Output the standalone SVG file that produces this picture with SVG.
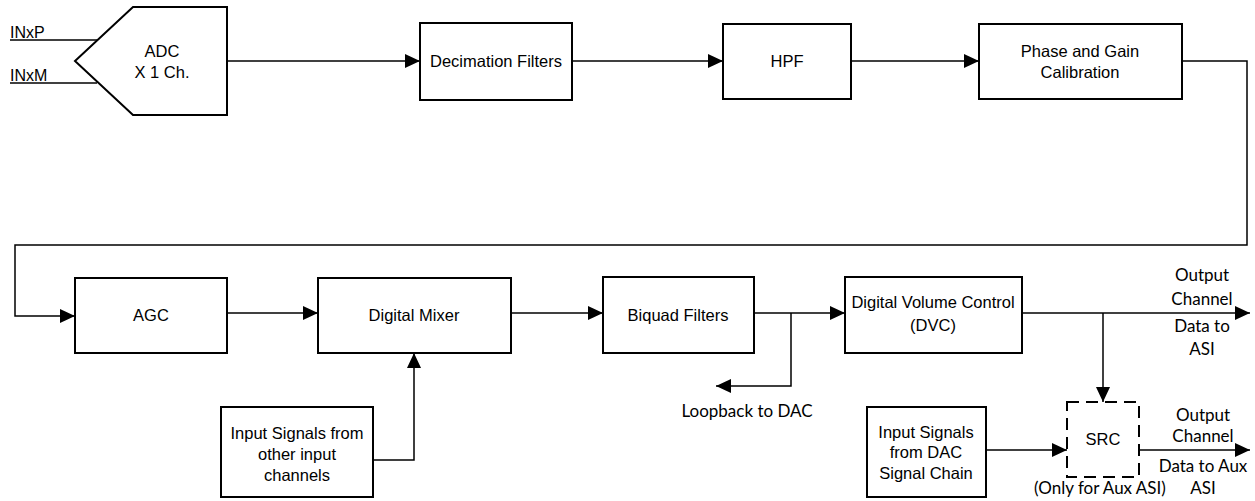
<svg xmlns="http://www.w3.org/2000/svg" width="1255" height="501" viewBox="0 0 1255 501">
<style>
.box{fill:#fff;stroke:#000;stroke-width:2}
.dash{fill:#fff;stroke:#000;stroke-width:2;stroke-dasharray:12,7}
.t{font-family:"Liberation Sans",Arial,sans-serif;font-size:16.5px;fill:#000;text-anchor:middle}
.c{font-family:Lato,"Open Sans",sans-serif;font-size:17px;fill:#000;text-anchor:middle}
.w{fill:none;stroke:#000;stroke-width:1.5}
</style>
<defs>
<marker id="ah" markerUnits="userSpaceOnUse" markerWidth="16" markerHeight="14" refX="15" refY="7" orient="auto">
<path d="M0,0 L15,7 L0,14 Z" fill="#000"/>
</marker>
</defs>
<g id="connectors">
<path class="w" d="M10,40 H97"/>
<path class="w" d="M10,83 H97"/>
<path class="w" d="M227,61 H420" marker-end="url(#ah)"/>
<path class="w" d="M572,61 H723" marker-end="url(#ah)"/>
<path class="w" d="M851,61 H979" marker-end="url(#ah)"/>
<path class="w" d="M1182,61 H1247 V245 H15 V316 H75" marker-end="url(#ah)"/>
<path class="w" d="M227,313 H318" marker-end="url(#ah)"/>
<path class="w" d="M511,313 H603" marker-end="url(#ah)"/>
<path class="w" d="M754,313 H845" marker-end="url(#ah)"/>
<path class="w" d="M791,313 V386 H716" marker-end="url(#ah)"/>
<path class="w" d="M1022,313 H1250" marker-end="url(#ah)"/>
<path class="w" d="M1103,313 V402" marker-end="url(#ah)"/>
<path class="w" d="M373,460 H414 V353" marker-end="url(#ah)"/>
<path class="w" d="M986,450 H1067" marker-end="url(#ah)"/>
<path class="w" d="M1139,450 H1250" marker-end="url(#ah)"/>
</g>
<g id="inputs">
<text x="10" y="38" font-family="Liberation Sans,Arial,sans-serif" font-size="16">INxP</text>
<text x="10" y="81" font-family="Liberation Sans,Arial,sans-serif" font-size="16">INxM</text>
</g>
<g id="adc">
<path class="box" d="M133,7 H227 V115 H133 L75,61 Z"/>
<text class="t" x="162" y="57">ADC</text>
<text class="t" x="162" y="78">X 1 Ch.</text>
</g>
<g id="decimation">
<rect class="box" x="420" y="23" width="152" height="77"/>
<text class="t" x="496" y="67">Decimation Filters</text>
</g>
<g id="hpf">
<rect class="box" x="723" y="24" width="128" height="75"/>
<text class="t" x="787" y="67">HPF</text>
</g>
<g id="phase">
<rect class="box" x="979" y="24" width="203" height="75"/>
<text class="t" x="1080" y="57">Phase and Gain</text>
<text class="t" x="1080" y="78">Calibration</text>
</g>
<g id="agc">
<rect class="box" x="75" y="278" width="152" height="75"/>
<text class="t" x="151" y="321">AGC</text>
</g>
<g id="mixer">
<rect class="box" x="318" y="278" width="193" height="75"/>
<text class="t" x="414" y="321">Digital Mixer</text>
</g>
<g id="biquad">
<rect class="box" x="603" y="277" width="151" height="76"/>
<text class="t" x="678" y="321">Biquad Filters</text>
</g>
<g id="dvc">
<rect class="box" x="845" y="277" width="177" height="76"/>
<text class="t" x="933" y="308">Digital Volume Control</text>
<text class="t" x="933" y="331">(DVC)</text>
</g>
<g id="loopback">
<text class="c" x="747" y="417">Loopback to DAC</text>
</g>
<g id="out1">
<text class="c" x="1202" y="281">Output</text>
<text class="c" x="1202" y="305">Channel</text>
<text class="c" x="1202" y="332">Data to</text>
<text class="c" x="1202" y="355">ASI</text>
</g>
<g id="other">
<rect class="box" x="221" y="407" width="152" height="90"/>
<text class="t" x="297" y="439">Input Signals from</text>
<text class="t" x="297" y="460">other input</text>
<text class="t" x="297" y="481">channels</text>
</g>
<g id="dacsig">
<rect class="box" x="867" y="407" width="119" height="90"/>
<text class="t" x="926" y="438">Input Signals</text>
<text class="t" x="926" y="458">from DAC</text>
<text class="t" x="926" y="479">Signal Chain</text>
</g>
<g id="src">
<rect class="dash" x="1067" y="402" width="72" height="75"/>
<text class="t" x="1103" y="445">SRC</text>
<text class="c" x="1100" y="494" font-size="14">(Only for Aux ASI)</text>
</g>
<g id="out2">
<text class="c" x="1203" y="421">Output</text>
<text class="c" x="1203" y="442">Channel</text>
<text class="c" x="1203" y="472">Data to Aux</text>
<text class="c" x="1203" y="494">ASI</text>
</g>
</svg>
